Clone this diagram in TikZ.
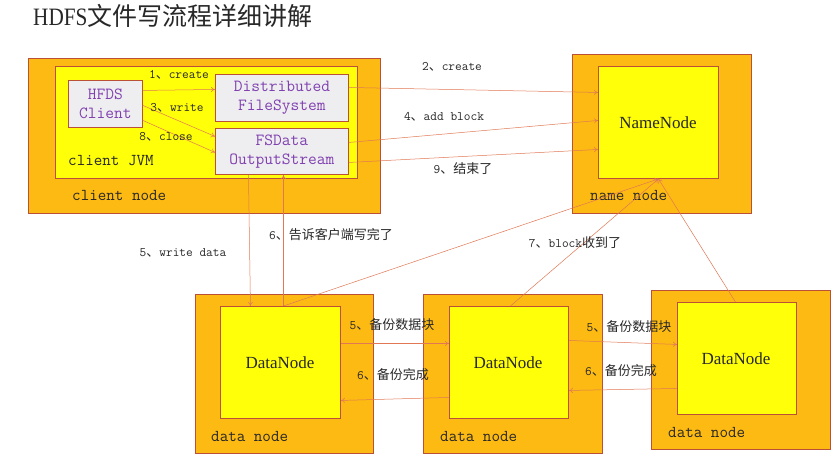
\documentclass[tikz,border=0pt]{standalone}
\usepackage{fontspec}
\setmainfont{Liberation Serif}
\newfontfamily\cjk{Noto Sans CJK SC}
\usetikzlibrary{arrows.meta,calc}
\newcommand{\zh}[1]{{\cjk #1}}
\definecolor{outerc}{RGB}{253,186,18}
\definecolor{innerc}{RGB}{255,255,10}
\definecolor{edgec}{RGB}{185,80,55}
\definecolor{boxc}{RGB}{238,238,240}
\definecolor{purp}{RGB}{128,64,176}
\definecolor{arrc}{RGB}{225,120,85}
\definecolor{txt}{RGB}{40,40,40}
\tikzset{
  outerbox/.style={draw=edgec,line width=0.9pt,fill=outerc,anchor=north west,inner sep=0pt},
  innerbox/.style={draw=edgec,line width=0.9pt,fill=innerc,anchor=north west,inner sep=0pt},
  clientbox/.style={draw=edgec,line width=0.9pt,fill=boxc,anchor=north west,inner sep=0pt,
     text=purp,font=\ttfamily\fontsize{17}{19}\selectfont,align=center},
  boxlabel/.style={anchor=west,inner sep=0pt,text=txt,font=\ttfamily\fontsize{16.6}{18}\selectfont},
  nodetext/.style={text=txt,font=\fontsize{17}{19}\selectfont,inner sep=0pt},
  lab/.style={inner sep=0pt,text=txt,font=\ttfamily\fontsize{13}{15}\selectfont},
  arr/.style={draw=arrc,line width=0.5pt,-{To[length=4pt,width=5pt]}}
}
\begin{document}
\begin{tikzpicture}[x=1pt,y=-1pt]
\useasboundingbox[fill=white] (0,0) rectangle (837,457);
% title
\node[inner sep=0pt,anchor=west,text=txt] (title) at (33,16)
  {\fontsize{25}{27}\selectfont\scalebox{0.85}[1]{HDFS}\zh{文件写流程详细讲解}};
% client node
\node[outerbox,minimum width=352pt,minimum height=155pt] (cn) at (28,58) {};
\node[innerbox,minimum width=302pt,minimum height=112pt] (jvm) at (55,66) {};
\node[clientbox,minimum width=74pt,minimum height=47pt] (hc) at (68,80) {HFDS\\Client};
\node[clientbox,minimum width=133pt,minimum height=47pt] (dfs) at (215,74) {Distributed\\FileSystem};
\node[clientbox,minimum width=133pt,minimum height=46pt] (fs) at (215,128) {FSData\\OutputStream};
\node[boxlabel] (jvmlab) at (68,161) {client JVM};
\node[boxlabel] (cnlab) at (72,195) {client node};
% name node
\node[outerbox,minimum width=179pt,minimum height=159pt] (nnout) at (572,54) {};
\node[innerbox,minimum width=120pt,minimum height=112pt] (nn) at (598,66) {};
\node[nodetext] (nntext) at (658,123) {NameNode};
\node[boxlabel] (nnlab) at (590,195) {name node};
% data nodes
\node[outerbox,minimum width=178pt,minimum height=159pt] (d1out) at (195,294) {};
\node[innerbox,minimum width=120pt,minimum height=112pt] (d1) at (220,306) {};
\node[nodetext] (d1text) at (280,363) {DataNode};
\node[boxlabel] (d1lab) at (211,436) {data node};
\node[outerbox,minimum width=179pt,minimum height=159pt] (d2out) at (423,294) {};
\node[innerbox,minimum width=119pt,minimum height=112pt] (d2) at (449,306) {};
\node[nodetext] (d2text) at (508,363) {DataNode};
\node[boxlabel] (d2lab) at (440,436) {data node};
\node[outerbox,minimum width=179pt,minimum height=159pt] (d3out) at (651,290) {};
\node[innerbox,minimum width=119pt,minimum height=112pt] (d3) at (677,302) {};
\node[nodetext] (d3text) at (736,359) {DataNode};
\node[boxlabel] (d3lab) at (668,432) {data node};
% arrows inside client
\draw[arr] ([yshift=13.5pt]hc.east) -- ([yshift=8.5pt]dfs.west);
\draw[arr] ([yshift=-1.5pt]hc.east) -- ([yshift=15pt]fs.west);
\draw[arr] ([yshift=-16.5pt]hc.east) -- ([yshift=-1pt]fs.west);
\node[lab] (l1) at (179,75) {1\zh{、}create};
\node[lab] (l3) at (177,108) {3\zh{、}write};
\node[lab] (l8) at (166,137) {8\zh{、}close};
% client to namenode
\draw[arr] ([yshift=10.5pt]dfs.east) -- ([yshift=30pt]nn.west);
\draw[arr] ([yshift=9pt]fs.east) -- ([yshift=2pt]nn.west);
\draw[arr] ([yshift=-11pt]fs.east) -- ([yshift=-27pt]nn.west);
\node[lab] (l2) at (452,67) {2\zh{、}create};
\node[lab] (l4) at (444,117) {4\zh{、}add block};
\node[lab] (l9) at (463,169) {9\zh{、结束了}};
% client to datanode
\draw[arr] ([xshift=-33.5pt]fs.south) -- ([xshift=-30pt]d1.north);
\draw[arr] ([xshift=3pt]d1.north) -- ([xshift=1.5pt]fs.south);
\node[lab] (l5w) at (183,253) {5\zh{、}write data};
\node[lab] (l6t) at (331,235) {6\zh{、告诉客户端写完了}};
% block received
\draw[arr] ([xshift=3pt]d1.north) -- (nn.south);
\draw[arr] ([xshift=1.5pt]d2.north) -- (nn.south);
\draw[arr] ([xshift=-1.5pt]d3.north) -- (nn.south);
\node[lab] (l7) at (575,243) {7\zh{、}block\zh{收到了}};
% replication
\draw[arr] ([yshift=19pt]d1.east) -- ([yshift=19pt]d2.west);
\draw[arr] ([yshift=-35pt]d2.west) -- ([yshift=-38pt]d1.east);
\draw[arr] ([yshift=22pt]d2.east) -- ([yshift=14pt]d3.west);
\draw[arr] ([yshift=-30pt]d3.west) -- ([yshift=-28pt]d2.east);
\node[lab] (l5a) at (392,325) {5\zh{、备份数据块}};
\node[lab] (l6a) at (393,375) {6\zh{、备份完成}};
\node[lab] (l5b) at (629,327) {5\zh{、备份数据块}};
\node[lab] (l6b) at (621,371) {6\zh{、备份完成}};
\end{tikzpicture}
\end{document}
